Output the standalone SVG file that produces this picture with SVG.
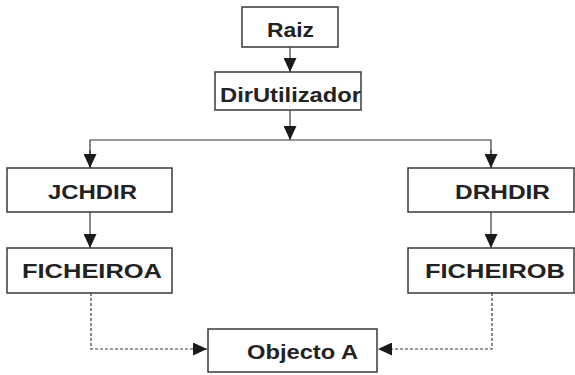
<svg xmlns="http://www.w3.org/2000/svg" width="575" height="375" viewBox="0 0 575 375">
<style>
.box{fill:#fff;stroke:#3a3a3a;stroke-width:1.5}
.lbl{font-family:"Liberation Sans",Arial,sans-serif;font-weight:bold;font-size:21px;fill:#222}
.ln{fill:none;stroke:#3a3a3a;stroke-width:1.2}
.dot{fill:none;stroke:#3a3a3a;stroke-width:1.2;stroke-dasharray:3,2}
</style>
<defs>
<marker id="ah" markerUnits="userSpaceOnUse" markerWidth="14" markerHeight="13" refX="14" refY="6.5" orient="auto">
<path d="M0,0 L14,6.5 L0,13 z" fill="#1a1a1a"/>
</marker>
</defs>
<rect width="575" height="375" fill="#fff"/>
<g id="connectors">
<path class="ln" d="M290,47 V72" marker-end="url(#ah)"/>
<path class="ln" d="M290,110 V140" marker-end="url(#ah)"/>
<path class="ln" d="M90,168 V140 H491 V168" />
<path class="ln" d="M90,150 V168" marker-end="url(#ah)"/>
<path class="ln" d="M491,150 V168" marker-end="url(#ah)"/>
<path class="ln" d="M90,212 V248" marker-end="url(#ah)"/>
<path class="ln" d="M491,212 V248" marker-end="url(#ah)"/>
<path class="dot" d="M91,293 V349 H207" marker-end="url(#ah)"/>
<path class="dot" d="M492,293 V349 H378" marker-end="url(#ah)"/>
</g>
<g id="raiz">
<rect class="box" x="242" y="7" width="96" height="40"/>
<text class="lbl" x="267" y="37" textLength="47" lengthAdjust="spacingAndGlyphs">Raiz</text>
</g>
<g id="dirutilizador">
<rect class="box" x="215" y="72" width="146" height="38"/>
<text class="lbl" x="220" y="102" textLength="141" lengthAdjust="spacingAndGlyphs">DirUtilizador</text>
</g>
<g id="jchdir">
<rect class="box" x="7" y="168" width="165" height="44"/>
<text class="lbl" x="48" y="199" textLength="89" lengthAdjust="spacingAndGlyphs">JCHDIR</text>
</g>
<g id="drhdir">
<rect class="box" x="408" y="168" width="166" height="44"/>
<text class="lbl" x="455" y="199" textLength="95" lengthAdjust="spacingAndGlyphs">DRHDIR</text>
</g>
<g id="ficheiroa">
<rect class="box" x="7" y="248" width="165" height="45"/>
<text class="lbl" x="22" y="278" textLength="140" lengthAdjust="spacingAndGlyphs">FICHEIROA</text>
</g>
<g id="ficheirob">
<rect class="box" x="408" y="248" width="166" height="45"/>
<text class="lbl" x="425" y="278" textLength="140" lengthAdjust="spacingAndGlyphs">FICHEIROB</text>
</g>
<g id="objectoa">
<rect class="box" x="208" y="329" width="169" height="43"/>
<text class="lbl" x="247" y="359" textLength="111" lengthAdjust="spacingAndGlyphs">Objecto A</text>
</g>
</svg>
